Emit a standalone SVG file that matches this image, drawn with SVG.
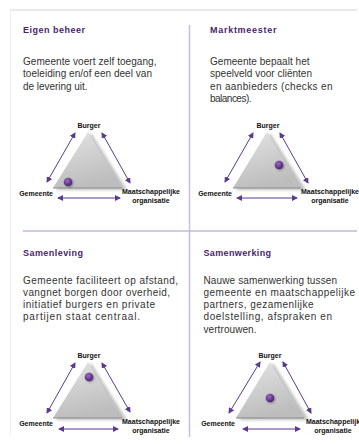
<svg xmlns="http://www.w3.org/2000/svg" width="359" height="444" viewBox="0 0 359 444">
<style>
.title{font-family:"Liberation Sans",Arial,sans-serif;font-weight:bold;font-size:9px;fill:#4a1f6b}
.body{font-family:"Liberation Sans",Arial,sans-serif;font-size:10px;fill:#333}
.lbl{font-family:"Liberation Sans",Arial,sans-serif;font-weight:bold;font-size:7px;fill:#111}
.mid{text-anchor:middle}
.end{text-anchor:end}
.arr{stroke:#5b3a8c;stroke-width:1;fill:none;marker-start:url(#ah);marker-end:url(#ah)}
.tri{fill:url(#tg)}
.shadow{fill:#8a8a8a;opacity:0.55;filter:url(#blur)}
.base{stroke:#8c8c8c;stroke-width:1.2}
.dot{fill:url(#dg);filter:url(#ds)}
</style>
<defs>
<marker id="ah" viewBox="0 0 6 6" refX="5" refY="3" markerWidth="6" markerHeight="6" markerUnits="userSpaceOnUse" orient="auto-start-reverse">
<path d="M0,0 L6,3 L0,6 z" fill="#5b3a8c"/>
</marker>
<linearGradient id="tg" x1="0" y1="0" x2="0.3" y2="1">
<stop offset="0" stop-color="#e4e4e4"/>
<stop offset="1" stop-color="#bdbdbd"/>
</linearGradient>
<radialGradient id="dg" cx="0.4" cy="0.35" r="0.65">
<stop offset="0" stop-color="#9a6cc0"/>
<stop offset="1" stop-color="#4b1f72"/>
</radialGradient>
<filter id="blur" x="-20%" y="-20%" width="140%" height="140%"><feGaussianBlur stdDeviation="1.8"/></filter>
<filter id="ds" x="-50%" y="-50%" width="200%" height="200%"><feDropShadow dx="1" dy="1" stdDeviation="0.8" flood-color="#000" flood-opacity="0.35"/></filter>
</defs>

<g id="frame">
<line x1="10" y1="10" x2="357" y2="10" stroke="#d8d0e6" stroke-width="1"/>
<line x1="10.5" y1="10" x2="10.5" y2="434" stroke="#ececec" stroke-width="1"/>
<line x1="189.5" y1="25" x2="189.5" y2="437" stroke="#cbbfdc" stroke-width="1.5"/>
<line x1="23" y1="231" x2="357" y2="231" stroke="#c6b6d8" stroke-width="1.5"/>
</g>

<g id="eigen-beheer">
<text class="title" x="23" y="33" textLength="62" lengthAdjust="spacing">Eigen beheer</text>
<text class="body" x="23" y="65" textLength="133.5" lengthAdjust="spacing">Gemeente voert zelf toegang,</text>
<text class="body" x="23" y="77.3" textLength="129" lengthAdjust="spacing">toeleiding en/of een deel van</text>
<text class="body" x="23" y="89.6" textLength="64.5" lengthAdjust="spacing">de levering uit.</text>
<path class="shadow" d="M91,133 L127,190 L56,190 z"/>
<path class="tri" d="M88,132 L122,188 L53,188 z"/>
<line class="base" x1="53" y1="188" x2="122" y2="188"/>
<circle class="dot" cx="68" cy="182" r="4.3"/>
<text class="lbl mid" x="89" y="128">Burger</text>
<text class="lbl end" x="53" y="196">Gemeente</text>
<text class="lbl mid" x="151" y="193.5">Maatschappelijke</text>
<text class="lbl mid" x="151" y="202.5">organisatie</text>
</g>

<g id="marktmeester">
<text class="title" x="210" y="33" textLength="66.5" lengthAdjust="spacing">Marktmeester</text>
<text class="body" x="210" y="65" textLength="99.5" lengthAdjust="spacing">Gemeente bepaalt het</text>
<text class="body" x="210" y="77.3" textLength="102" lengthAdjust="spacing">speelveld voor cliënten</text>
<text class="body" x="210" y="89.6" textLength="122.5" lengthAdjust="spacing">en aanbieders (checks en</text>
<text class="body" x="210" y="101.9" textLength="41.5" lengthAdjust="spacing">balances).</text>
<path class="shadow" d="M270,133 L306,190 L236,190 z"/>
<path class="tri" d="M267,132 L301,188 L233,188 z"/>
<line class="base" x1="233" y1="188" x2="301" y2="188"/>
<circle class="dot" cx="279" cy="165" r="4.3"/>
<text class="lbl mid" x="268" y="128">Burger</text>
<text class="lbl end" x="232" y="196">Gemeente</text>
<text class="lbl mid" x="330" y="193.5">Maatschappelijke</text>
<text class="lbl mid" x="330" y="202.5">organisatie</text>
</g>

<g id="samenleving">
<text class="title" x="23" y="256" textLength="60" lengthAdjust="spacing">Samenleving</text>
<text class="body" x="23" y="283.5" textLength="155" lengthAdjust="spacing">Gemeente faciliteert op afstand,</text>
<text class="body" x="23" y="295.8" textLength="147" lengthAdjust="spacing">vangnet borgen door overheid,</text>
<text class="body" x="23" y="308.1" textLength="132" lengthAdjust="spacing">initiatief burgers en private</text>
<text class="body" x="23" y="320.4" textLength="117" lengthAdjust="spacing">partijen staat centraal.</text>
<path class="shadow" d="M91,363 L127,420 L56,420 z"/>
<path class="tri" d="M88,362 L122,418 L53,418 z"/>
<line class="base" x1="53" y1="418" x2="122" y2="418"/>
<circle class="dot" cx="89" cy="377" r="4.3"/>
<text class="lbl mid" x="89" y="358">Burger</text>
<text class="lbl end" x="53" y="426">Gemeente</text>
<text class="lbl mid" x="151" y="424">Maatschappelijke</text>
<text class="lbl mid" x="151" y="432.5">organisatie</text>
</g>

<g id="samenwerking">
<text class="title" x="203.5" y="256" textLength="67.5" lengthAdjust="spacing">Samenwerking</text>
<text class="body" x="203.5" y="283.5" textLength="133.5" lengthAdjust="spacing">Nauwe samenwerking tussen</text>
<text class="body" x="203.5" y="295.8" textLength="151.5" lengthAdjust="spacing">gemeente en maatschappelijke</text>
<text class="body" x="203.5" y="308.1" textLength="110" lengthAdjust="spacing">partners, gezamenlijke</text>
<text class="body" x="203.5" y="320.4" textLength="128.5" lengthAdjust="spacing">doelstelling, afspraken en</text>
<text class="body" x="203.5" y="332.7" textLength="53" lengthAdjust="spacing">vertrouwen.</text>
<path class="shadow" d="M273,363 L309,420 L239,420 z"/>
<path class="tri" d="M270,362 L304,418 L236,418 z"/>
<line class="base" x1="236" y1="418" x2="304" y2="418"/>
<circle class="dot" cx="270" cy="398" r="4.3"/>
<text class="lbl mid" x="270" y="358">Burger</text>
<text class="lbl end" x="235" y="426">Gemeente</text>
<text class="lbl mid" x="333" y="424">Maatschappelijk</text>
<text class="lbl mid" x="333" y="432.5">organisatie</text>
</g>

<g id="connectors">
<line class="arr" x1="75" y1="133" x2="47" y2="182"/>
<line class="arr" x1="102" y1="133" x2="130" y2="183"/>
<line class="arr" x1="58" y1="198" x2="120" y2="198"/>
<line class="arr" x1="253" y1="133" x2="225" y2="182"/>
<line class="arr" x1="280" y1="133" x2="308" y2="183"/>
<line class="arr" x1="237" y1="198" x2="297" y2="198"/>
<line class="arr" x1="75" y1="363" x2="47" y2="413"/>
<line class="arr" x1="102" y1="363" x2="130" y2="412"/>
<line class="arr" x1="59" y1="429" x2="118" y2="429"/>
<line class="arr" x1="260" y1="362" x2="229" y2="413"/>
<line class="arr" x1="283" y1="362" x2="311" y2="413"/>
<line class="arr" x1="243" y1="429" x2="300" y2="429"/>
</g>
</svg>
